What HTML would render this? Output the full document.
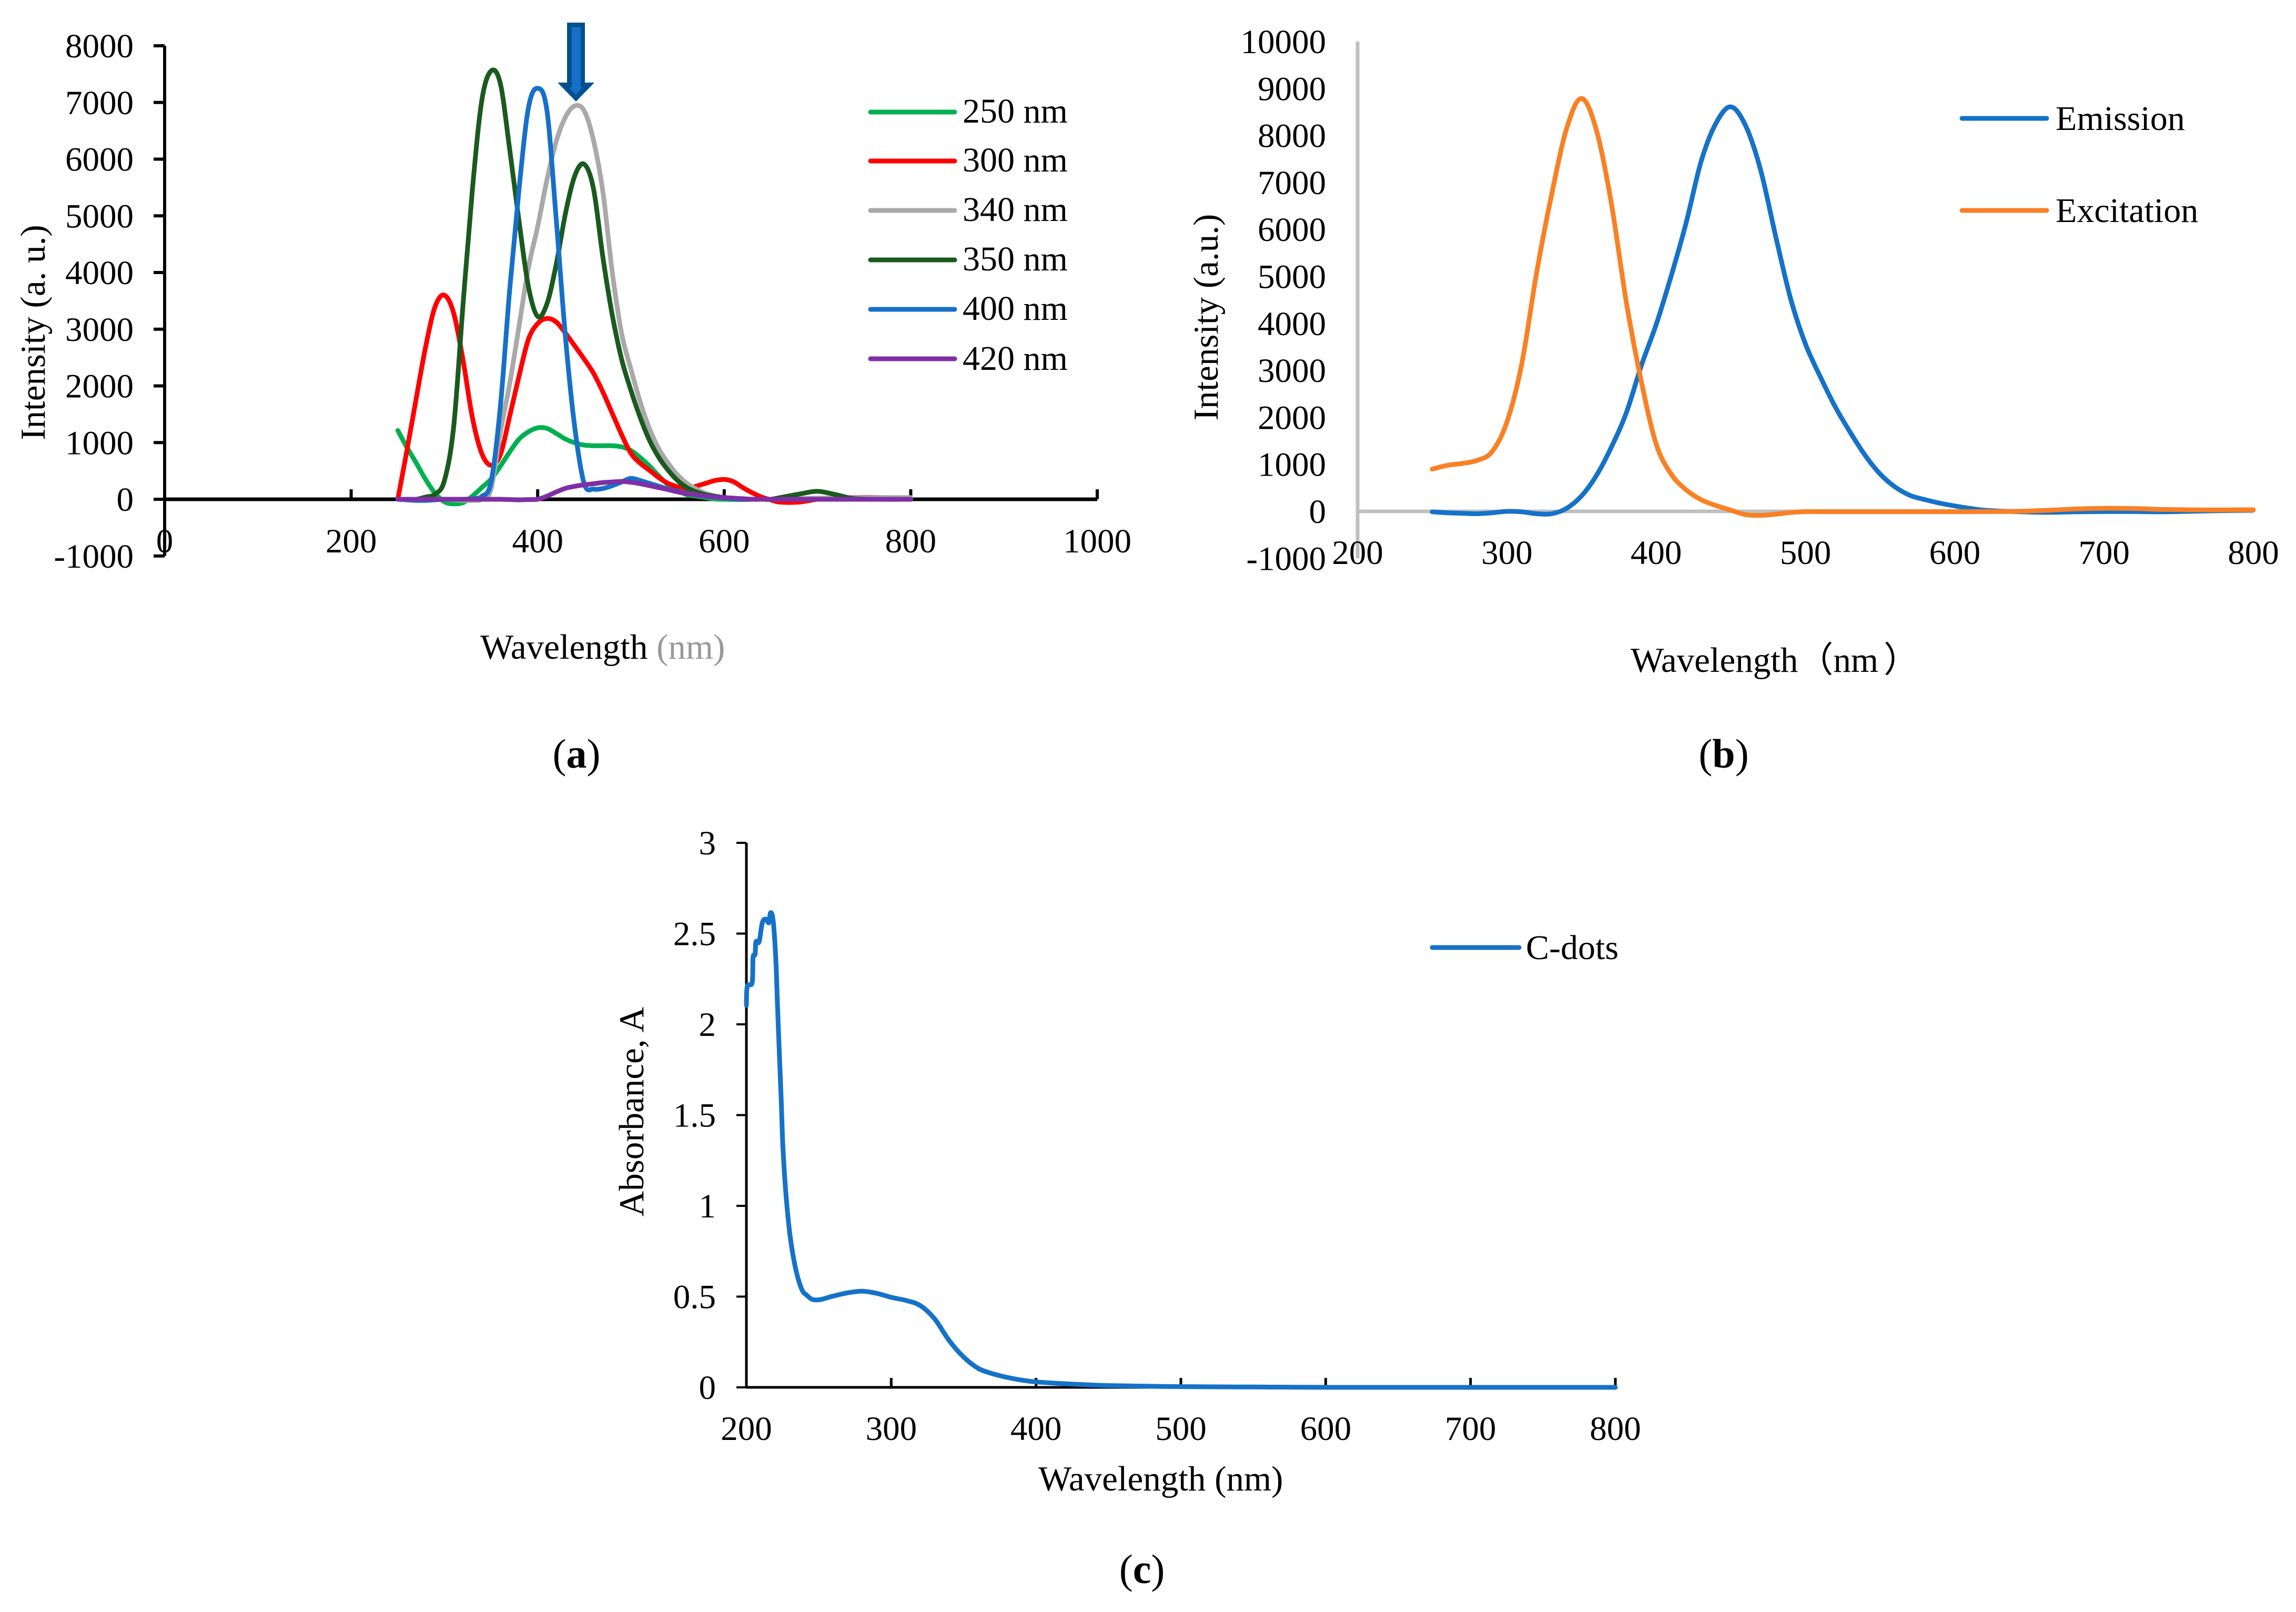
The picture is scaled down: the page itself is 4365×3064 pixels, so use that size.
<!DOCTYPE html>
<html lang="en">
<head>
<meta charset="utf-8">
<title>Fluorescence and absorbance spectra of C-dots</title>
<style>
html,body{margin:0;padding:0;background:#fff;}
svg{display:block;}
text{font-family:"Liberation Serif","Noto Sans CJK SC",serif;fill:#000;}
.tick{font-size:65px;}
.title{font-size:67px;}
.leg{font-size:66px;}
.panel{font-size:78px;}
</style>
</head>
<body>
<svg id="figure" xmlns="http://www.w3.org/2000/svg" width="4365" height="3064" viewBox="0 0 4365 3064">
  <rect width="4365" height="3064" fill="#fff"/>

  <g id="a-panel">
    <g id="a-axes"></g>
    <g id="a-series"></g>
    <g>
      <polygon points="1078,43 1112,43 1112,157 1130,157 1095,193 1060,157 1078,157" fill="#05508F"/>
      <polygon points="1087,52 1104,52 1104,166 1107,166 1095,180 1082,166 1087,166" fill="#1770C8"/>
    </g>
    <text class="title" transform="translate(85,632) rotate(-90)" text-anchor="middle">Intensity (a. u.)</text>
    <text class="title" x="913" y="1252">Wavelength <tspan style="fill:#999999">(nm)</tspan></text>
    <g>
      <g><line x1="1655" x2="1815" y1="213" y2="213" stroke="#00B050" stroke-width="9" stroke-linecap="round"/><text class="leg" x="1830" y="233">250 nm</text></g>
      <g><line x1="1655" x2="1815" y1="306" y2="306" stroke="#FF0000" stroke-width="9" stroke-linecap="round"/><text class="leg" x="1830" y="326">300 nm</text></g>
      <g><line x1="1655" x2="1815" y1="400" y2="400" stroke="#A9A9A9" stroke-width="9" stroke-linecap="round"/><text class="leg" x="1830" y="420">340 nm</text></g>
      <g><line x1="1655" x2="1815" y1="494" y2="494" stroke="#1B5A1E" stroke-width="9" stroke-linecap="round"/><text class="leg" x="1830" y="514">350 nm</text></g>
      <g><line x1="1655" x2="1815" y1="588" y2="588" stroke="#1770C8" stroke-width="9" stroke-linecap="round"/><text class="leg" x="1830" y="608">400 nm</text></g>
      <g><line x1="1655" x2="1815" y1="682" y2="682" stroke="#7F2FA5" stroke-width="9" stroke-linecap="round"/><text class="leg" x="1830" y="703">420 nm</text></g>
    </g>
    <text class="panel" x="1096" y="1459" text-anchor="middle">(<tspan font-weight="bold">a</tspan>)</text>
  </g>

  <g id="b-panel">
    <g id="b-axes"></g>
    <g id="b-series"></g>
    <text class="title" transform="translate(2315,603) rotate(-90)" text-anchor="middle">Intensity (a.u.)</text>
    <text class="title" x="3100" y="1277">Wavelength（nm<tspan dx="10">）</tspan></text>
    <g>
      <g><line x1="3730" x2="3891" y1="225" y2="225" stroke="#1572C8" stroke-width="9" stroke-linecap="round"/><text class="leg" x="3908" y="247">Emission</text></g>
      <g><line x1="3730" x2="3891" y1="400" y2="400" stroke="#F98024" stroke-width="9" stroke-linecap="round"/><text class="leg" x="3908" y="422">Excitation</text></g>
    </g>
    <text class="panel" x="3277" y="1459" text-anchor="middle">(<tspan font-weight="bold">b</tspan>)</text>
  </g>

  <g id="c-panel">
    <g id="c-axes"></g>
    <g id="c-series"></g>
    <text class="title" transform="translate(1223,2113) rotate(-90)" text-anchor="middle">Absorbance, A</text>
    <text class="title" x="1974" y="2833">Wavelength (nm)</text>
    <g>
      <g><line x1="2723" x2="2888" y1="1801" y2="1801" stroke="#1572C8" stroke-width="9" stroke-linecap="round"/><text class="leg" x="2901" y="1823">C-dots</text></g>
    </g>
    <text class="panel" x="2171" y="3009" text-anchor="middle">(<tspan font-weight="bold">c</tspan>)</text>
  </g>
</svg>

<script>
// Panel (a) data
const aXTicks = [0, 200, 400, 600, 800, 1000];
const aYTicks = [-1000, 0, 1000, 2000, 3000, 4000, 5000, 6000, 7000, 8000];
const aWavelengths = [250,260,270,280,290,300,310,320,330,340,350,360,370,380,390,400,410,420,430,440,450,460,470,480,490,500,510,520,530,540,550,560,570,580,590,600,610,620,630,640,650,660,680,700,720,740,770,800];
const a250 = [1213,910,635,345,105,-45,-80,-60,55,205,355,585,835,1060,1190,1260,1250,1160,1060,995,955,945,945,945,925,860,735,585,410,255,155,80,55,30,5,0,-5,-5,0,0,0,0,0,0,0,0,0,0];
const a300 = [0,880,1800,2700,3400,3600,3280,2450,1440,810,600,785,1465,2170,2820,3100,3190,3125,2925,2700,2470,2220,1890,1515,1140,810,635,510,380,280,220,180,230,280,330,350,310,205,115,40,-10,-50,-50,0,15,30,30,0];
const a340 = [0,0,0,0,0,0,-10,-20,-20,0,180,1190,2040,3050,4080,4810,5640,6320,6750,6940,6850,6320,5415,4005,2925,2295,1715,1240,885,635,430,280,180,105,55,25,10,0,0,0,0,0,10,20,20,25,30,30];
const a350 = [0,0,0,40,90,330,1290,3450,5465,7025,7555,7330,6170,4910,3755,3225,3450,4155,5060,5715,5910,5465,4260,3250,2470,1920,1440,1035,735,510,330,205,130,80,55,30,15,0,0,0,0,30,90,140,80,10,0,0];
const a400 = [0,-10,-20,-20,-10,0,0,0,10,50,305,1640,3700,5465,6900,7250,6850,4910,2820,1240,270,180,190,240,305,370,330,280,230,180,145,105,80,55,40,20,10,0,0,0,0,0,0,0,0,0,0,0];
const a420 = [0,0,0,0,0,0,0,0,0,0,0,0,-5,-10,-5,0,55,130,195,230,255,275,295,305,315,300,275,240,205,170,130,100,80,55,40,30,20,10,0,0,0,0,0,0,0,0,0,0];

// Panel (b) data
const bXTicks = [200, 300, 400, 500, 600, 700, 800];
const bYTicks = [-1000, 0, 1000, 2000, 3000, 4000, 5000, 6000, 7000, 8000, 9000, 10000];
const bWavelengths = [250,260,270,280,290,300,310,320,330,340,350,360,370,380,390,400,410,420,430,440,450,460,470,480,490,500,510,520,530,540,550,560,570,580,590,600,610,620,640,660,680,700,720,740,770,800];
const bEmission = [-10,-30,-40,-50,-30,0,-10,-50,-50,65,330,765,1370,2100,3100,3980,5010,6135,7440,8260,8610,8200,7260,5860,4530,3560,2860,2220,1680,1190,795,520,340,250,175,115,65,25,-5,-20,-10,-5,-5,-10,10,30];
const bExcitation = [900,980,1020,1085,1270,1900,3150,5100,6750,8150,8790,8110,6550,4450,2770,1430,795,460,250,125,25,-70,-85,-60,-25,-6,-6,-6,-6,-6,-6,-6,-6,-6,-6,-6,-6,-5,0,20,50,65,60,40,30,35];

// Panel (c) data
const cXTicks = [200, 300, 400, 500, 600, 700, 800];
const cYTicks = [0, 0.5, 1, 1.5, 2, 2.5, 3];
const cWavelengths = [200,200.6,204,204.6,206,206.6,208.8,211,213.4,215.5,216.7,218.5,220.3,221.5,222.8,224,225.2,227,229.4,231.8,234.9,238.5,241.5,245,248,252,260,270,280,290,300,310,320,330,340,350,360,370,380,390,400,420,450,500,550,600,700,800];
const cAbsorbance = [2.105,2.21,2.23,2.37,2.385,2.455,2.455,2.56,2.58,2.56,2.615,2.57,2.36,2.1,1.83,1.59,1.325,1.096,0.886,0.746,0.623,0.535,0.509,0.486,0.482,0.485,0.503,0.521,0.53,0.518,0.496,0.479,0.451,0.377,0.258,0.167,0.105,0.075,0.055,0.04,0.03,0.02,0.01,0.004,0.002,0,0,0];

const NS = 'http://www.w3.org/2000/svg';

function makeScale(d0, d1, r0, r1) {
  return function (v) { return r0 + (v - d0) * (r1 - r0) / (d1 - d0); };
}

// Axis functions
const ax = makeScale(0, 1000, 313, 2086);
const ay = makeScale(0, 8000, 949, 87);
const bx = makeScale(200, 800, 2581, 4284);
const by = makeScale(0, 10000, 972, 79);
const cx = makeScale(200, 800, 1419, 3071);
const cy = makeScale(0, 3, 2637, 1602);

function smoothPath(xs, ys, fx, fy) {
  const p = xs.map(function (x, i) { return [fx(x), fy(ys[i])]; });
  let d = 'M' + p[0][0].toFixed(1) + ' ' + p[0][1].toFixed(1);
  for (let i = 0; i < p.length - 1; i++) {
    const p0 = p[Math.max(i - 1, 0)];
    const p1 = p[i];
    const p2 = p[i + 1];
    const p3 = p[Math.min(i + 2, p.length - 1)];
    const c1x = p1[0] + (p2[0] - p0[0]) / 6;
    const c1y = p1[1] + (p2[1] - p0[1]) / 6;
    const c2x = p2[0] - (p3[0] - p1[0]) / 6;
    const c2y = p2[1] - (p3[1] - p1[1]) / 6;
    d += 'C' + c1x.toFixed(1) + ' ' + c1y.toFixed(1) + ' ' + c2x.toFixed(1) + ' ' + c2y.toFixed(1) + ' ' + p2[0].toFixed(1) + ' ' + p2[1].toFixed(1);
  }
  return d;
}

function drawSeries(parentId, name, xs, ys, fx, fy, color, width) {
  const el = document.createElementNS(NS, 'path');
  
  
  el.setAttribute('d', smoothPath(xs, ys, fx, fy));
  el.setAttribute('fill', 'none');
  el.setAttribute('stroke', color);
  el.setAttribute('stroke-width', width);
  el.setAttribute('stroke-linejoin', 'round');
  el.setAttribute('stroke-linecap', 'round');
  document.getElementById(parentId).appendChild(el);
}

function drawLine(parentId, name, x1, y1, x2, y2, color, width) {
  const el = document.createElementNS(NS, 'line');
  
  
  el.setAttribute('x1', x1);
  el.setAttribute('y1', y1);
  el.setAttribute('x2', x2);
  el.setAttribute('y2', y2);
  el.setAttribute('stroke', color);
  el.setAttribute('stroke-width', width);
  document.getElementById(parentId).appendChild(el);
}

function drawLabel(parentId, name, x, y, anchor, label) {
  const el = document.createElementNS(NS, 'text');
  
  
  el.setAttribute('class', 'tick');
  el.setAttribute('x', x);
  el.setAttribute('y', y);
  el.setAttribute('text-anchor', anchor);
  el.textContent = label;
  document.getElementById(parentId).appendChild(el);
}

// Panel (a) axes
drawLine('a-axes', 'y-axis-line', ax(0), ay(8000), ax(0), ay(-1000), '#000', 6);
drawLine('a-axes', 'x-axis-line', ax(0), ay(0), ax(1000), ay(0), '#000', 7);
aYTicks.forEach(function (v) {
  drawLine('a-axes', 'y-tick', ax(0) - 21, ay(v), ax(0), ay(v), '#000', 6);
  drawLabel('a-axes', 'y-tick-label', 254, ay(v) + 22, 'end', String(v));
});
aXTicks.forEach(function (v) {
  if (v > 0) drawLine('a-axes', 'x-tick', ax(v), ay(0) - 19, ax(v), ay(0), '#000', 6);
  drawLabel('a-axes', 'x-tick-label', ax(v), 1050, 'middle', String(v));
});

// Panel (a) series
drawSeries('a-series', 'series-250-nm', aWavelengths, a250, ax, ay, '#00B050', 9);
drawSeries('a-series', 'series-300-nm', aWavelengths, a300, ax, ay, '#FF0000', 9);
drawSeries('a-series', 'series-340-nm', aWavelengths, a340, ax, ay, '#A9A9A9', 9);
drawSeries('a-series', 'series-350-nm', aWavelengths, a350, ax, ay, '#1B5A1E', 9);
drawSeries('a-series', 'series-400-nm', aWavelengths, a400, ax, ay, '#1770C8', 9);
drawSeries('a-series', 'series-420-nm', aWavelengths, a420, ax, ay, '#7F2FA5', 9);

// Panel (b) axes
drawLine('b-axes', 'y-axis-line', bx(200), by(10000), bx(200), by(-1000), '#BFBFBF', 7);
drawLine('b-axes', 'x-axis-line', bx(200), by(0), bx(800), by(0), '#BFBFBF', 7);
bYTicks.forEach(function (v) {
  drawLabel('b-axes', 'y-tick-label', 2521, by(v) + 22, 'end', String(v));
});
bXTicks.forEach(function (v) {
  drawLabel('b-axes', 'x-tick-label', bx(v), 1072, 'middle', String(v));
});

// Panel (b) series
drawSeries('b-series', 'series-emission', bWavelengths, bEmission, bx, by, '#1572C8', 9);
drawSeries('b-series', 'series-excitation', bWavelengths, bExcitation, bx, by, '#F98024', 9);

// Panel (c) axes
drawLine('c-axes', 'y-axis-line', cx(200), cy(3), cx(200), cy(0), '#000', 5);
drawLine('c-axes', 'x-axis-line', cx(200), cy(0), cx(800), cy(0), '#000', 5);
cYTicks.forEach(function (v) {
  drawLine('c-axes', 'y-tick', cx(200) - 19, cy(v), cx(200), cy(v), '#000', 4);
  drawLabel('c-axes', 'y-tick-label', 1361, cy(v) + 22, 'end', String(v));
});
cXTicks.forEach(function (v) {
  drawLine('c-axes', 'x-tick', cx(v), cy(0) - 18, cx(v), cy(0), '#000', 5);
  drawLabel('c-axes', 'x-tick-label', cx(v), 2737, 'middle', String(v));
});

// Panel (c) series
drawSeries('c-series', 'series-c-dots', cWavelengths, cAbsorbance, cx, cy, '#1572C8', 9);
</script>
</body>
</html>
